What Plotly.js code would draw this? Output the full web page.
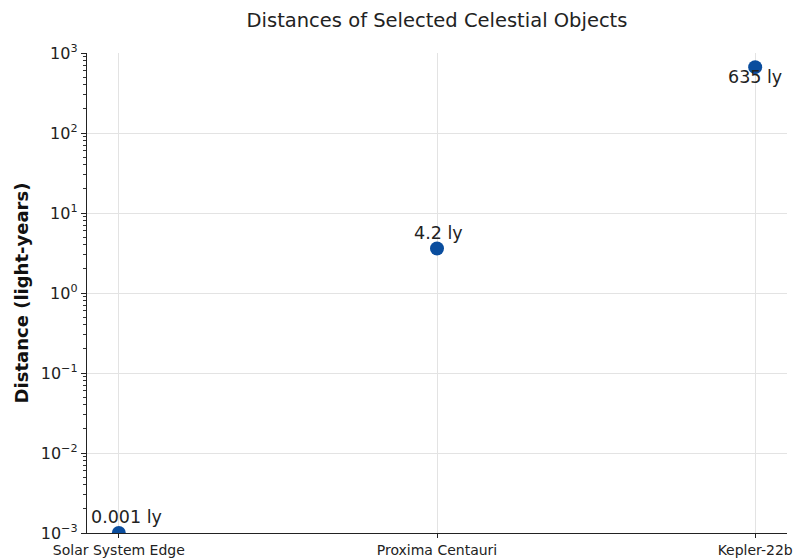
<!DOCTYPE html>
<html>
<head>
<meta charset="utf-8">
<script src="https://cdn.plot.ly/plotly-3.0.1.min.js"></script>
<style>html,body{margin:0;padding:0;background:#fff;}#chart{width:796px;height:560px;}</style>
</head>
<body>
<div id="chart"></div>
<script>
const categories = ["Solar System Edge", "Proxima Centauri", "Kepler-22b"];
const distances = [0.001, 3.6, 665];
const pointLabels = ["0.001 ly", "4.2 ly", "635 ly"];
const labelShiftsY = [16, 16, -10];
const labelShiftsX = [8, 1, 0];
const yTickVals = [0.001, 0.01, 0.1, 1, 10, 100, 1000];
const yTickText = ["10<sup>−3</sup>", "10<sup>−2</sup>", "10<sup>−1</sup>", "10<sup>0</sup>", "10<sup>1</sup>", "10<sup>2</sup>", "10<sup>3</sup>"];

const font = "DejaVu Sans, sans-serif";

// minor log ticks (2..9 within each decade)
const minorVals = [];
for (let e = -3; e < 3; e++) {
  for (let m = 2; m <= 9; m++) minorVals.push(m * Math.pow(10, e));
}

const trace = {
  x: categories,
  y: distances,
  type: "scatter",
  mode: "markers",
  marker: {color: "#0a4d9e", size: 14},
  cliponaxis: true,
  hoverinfo: "skip"
};

const minorHolder = {
  x: [categories[0]],
  y: [null],
  yaxis: "y2",
  type: "scatter",
  mode: "markers",
  marker: {opacity: 0},
  hoverinfo: "skip"
};

const annotations = categories.map((c, i) => ({
  x: c,
  y: Math.log10(distances[i]),
  xref: "x",
  yref: "y",
  text: pointLabels[i],
  showarrow: false,
  yshift: labelShiftsY[i],
  xshift: labelShiftsX[i],
  font: {family: font, size: 17.5, color: "#222"}
}));

const layout = {
  width: 796,
  height: 560,
  margin: {l: 87, r: 9, t: 53, b: 27},
  paper_bgcolor: "#fff",
  plot_bgcolor: "#fff",
  showlegend: false,
  title: {
    text: "Distances of Selected Celestial Objects",
    x: 0.5, xref: "paper", xanchor: "center",
    y: 0.964, yref: "container", yanchor: "middle",
    font: {family: font, size: 19.5, color: "#222"}
  },
  xaxis: {
    type: "category",
    range: [-0.1, 2.1],
    showgrid: true,
    gridcolor: "#e3e3e3",
    gridwidth: 1,
    showline: true,
    linecolor: "#222",
    linewidth: 1.2,
    ticks: "outside",
    ticklen: 4,
    tickcolor: "#222",
    tickfont: {family: font, size: 14, color: "#222"},
    zeroline: false,
    fixedrange: true
  },
  yaxis: {
    type: "log",
    range: [-3, 3],
    tickmode: "array",
    tickvals: yTickVals,
    ticktext: yTickText,
    showgrid: true,
    gridcolor: "#e3e3e3",
    gridwidth: 1,
    showline: true,
    linecolor: "#222",
    linewidth: 1.2,
    ticks: "outside",
    ticklen: 5,
    tickcolor: "#222",
    tickfont: {family: font, size: 16, color: "#222"},
    zeroline: false,
    fixedrange: true,
    title: {
      text: "<b>Distance (light-years)</b>",
      font: {family: font, size: 18, color: "#111"},
      standoff: 7
    }
  },
  yaxis2: {
    type: "log",
    range: [-3, 3],
    overlaying: "y",
    side: "left",
    tickmode: "array",
    tickvals: minorVals,
    showticklabels: false,
    ticks: "outside",
    ticklen: 3,
    tickwidth: 1,
    tickcolor: "#333",
    showgrid: false,
    showline: false,
    zeroline: false,
    fixedrange: true
  },
  annotations: annotations
};

Plotly.newPlot("chart", [trace, minorHolder], layout, {displayModeBar: false, staticPlot: true});
</script>
</body>
</html>
